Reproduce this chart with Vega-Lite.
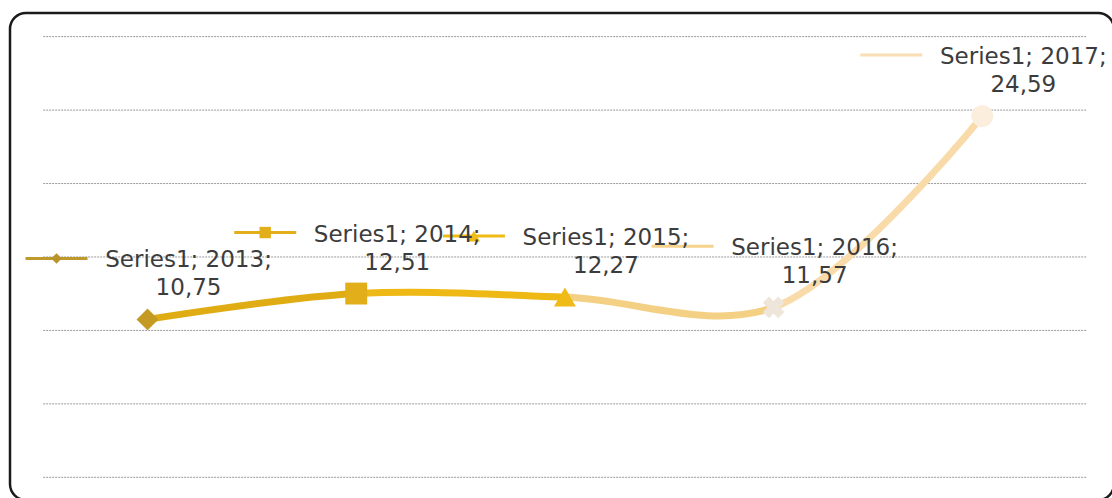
{
  "$schema": "https://vega.github.io/schema/vega-lite/v6.json",
  "width": 1104,
  "height": 487,
  "padding": {"left": 10, "top": 13, "right": 0, "bottom": 0},
  "autosize": {"type": "none"},
  "background": "white",
  "config": {
    "view": {"fill": "white", "stroke": "#1a1a1a", "strokeWidth": 2.5, "cornerRadius": 16}
  },
  "datasets": {
    "points": [
      {"year": 2013, "value": 10.75, "label": "Series1; 2013;\n10,75"},
      {"year": 2014, "value": 12.51, "label": "Series1; 2014;\n12,51"},
      {"year": 2015, "value": 12.27, "label": "Series1; 2015;\n12,27"},
      {"year": 2016, "value": 11.57, "label": "Series1; 2016;\n11,57"},
      {"year": 2017, "value": 24.59, "label": "Series1; 2017;\n24,59"}
    ],
    "grid": [
      {"level": 0, "from": 2012.5, "to": 2017.5},
      {"level": 5, "from": 2012.5, "to": 2017.5},
      {"level": 10, "from": 2012.5, "to": 2017.5},
      {"level": 15, "from": 2012.5, "to": 2017.5},
      {"level": 20, "from": 2012.5, "to": 2017.5},
      {"level": 25, "from": 2012.5, "to": 2017.5},
      {"level": 30, "from": 2012.5, "to": 2017.5}
    ]
  },
  "data": {"name": "points"},
  "layer": [
    {
      "data": {"name": "grid"},
      "mark": {"type": "rule", "stroke": "#9a9a9a", "strokeWidth": 1, "strokeDash": [2, 1]},
      "encoding": {
        "x": {"field": "from", "type": "quantitative", "scale": {"domain": [2012.341, 2017.631], "nice": false, "zero": false}, "axis": null},
        "x2": {"field": "to"},
        "y": {"field": "level", "type": "quantitative", "scale": {"domain": [-1.545, 31.61], "nice": false, "zero": false}, "axis": null}
      }
    },
    {
      "mark": {
        "type": "line",
        "interpolate": "catmull-rom",
        "strokeWidth": 7,
        "strokeCap": "round",
        "stroke": {
          "gradient": "linear", "x1": 0, "y1": 0, "x2": 1, "y2": 0,
          "stops": [
            {"offset": 0, "color": "#E0AC14"},
            {"offset": 0.25, "color": "#E0AC14"},
            {"offset": 0.25, "color": "#EEB915"},
            {"offset": 0.5, "color": "#EEB915"},
            {"offset": 0.5, "color": "#F4D084"},
            {"offset": 0.75, "color": "#F4D084"},
            {"offset": 0.75, "color": "#F9DBAA"},
            {"offset": 1, "color": "#F9DBAA"}
          ]
        }
      },
      "encoding": {
        "x": {"field": "year", "type": "quantitative"},
        "y": {"field": "value", "type": "quantitative"}
      }
    },
    {
      "mark": {"type": "point", "filled": true, "opacity": 1},
      "encoding": {
        "x": {"field": "year", "type": "quantitative"},
        "y": {"field": "value", "type": "quantitative"},
        "shape": {"field": "year", "type": "nominal", "legend": null,
          "scale": {"domain": [2013, 2014, 2015, 2016, 2017], "range": ["diamond", "square", "triangle-up", "cross", "circle"]}},
        "angle": {"field": "year", "type": "nominal", "legend": null,
          "scale": {"type": "ordinal", "domain": [2013, 2014, 2015, 2016, 2017], "range": [0, 0, 0, 45, 0]}},
        "color": {"field": "year", "type": "nominal", "legend": null,
          "scale": {"domain": [2013, 2014, 2015, 2016, 2017], "range": ["#C49A22", "#E2AE19", "#F0BB17", "#EEE6DA", "#FBEEDC"]}},
        "size": {"field": "year", "type": "nominal", "legend": null,
          "scale": {"domain": [2013, 2014, 2015, 2016, 2017], "range": [480, 480, 420, 200, 90]}}
      }
    },
    {
      "mark": {"type": "rule", "strokeWidth": 3, "xOffset": -122, "x2Offset": -60, "yOffset": -61, "y2Offset": -61},
      "encoding": {
        "x": {"field": "year", "type": "quantitative"},
        "x2": {"field": "year"},
        "y": {"field": "value", "type": "quantitative"},
        "y2": {"field": "value"},
        "color": {"field": "year", "type": "nominal", "legend": null,
          "scale": {"domain": [2013, 2014, 2015, 2016, 2017], "range": ["#BE9A2E", "#E2AE19", "#F0BB17", "#F5D38C", "#F9DDB4"]}}
      }
    },
    {
      "transform": [{"filter": "datum.year <= 2015"}],
      "mark": {"type": "point", "filled": true, "opacity": 1, "xOffset": -91, "yOffset": -61},
      "encoding": {
        "x": {"field": "year", "type": "quantitative"},
        "y": {"field": "value", "type": "quantitative"},
        "shape": {"field": "year", "type": "nominal", "legend": null},
        "color": {"field": "year", "type": "nominal", "legend": null,
          "scale": {"domain": [2013, 2014, 2015, 2016, 2017], "range": ["#B8942A", "#E2AE19", "#F0BB17", "#F5D38C", "#F9DDB4"]}},
        "size": {"field": "year", "type": "nominal", "legend": null,
          "scale": {"domain": [2013, 2014, 2015, 2016, 2017], "range": [110, 190, 190, 0, 0]}}
      }
    },
    {
      "mark": {"type": "text", "font": "DejaVu Sans", "fontSize": 23, "color": "#3c3c3c", "align": "center", "baseline": "alphabetic", "dx": 41, "dy": -52, "lineBreak": "\n", "lineHeight": 28},
      "encoding": {
        "x": {"field": "year", "type": "quantitative"},
        "y": {"field": "value", "type": "quantitative"},
        "text": {"field": "label"}
      }
    }
  ],
  "resolve": {"scale": {"color": "independent", "size": "independent"}}
}
